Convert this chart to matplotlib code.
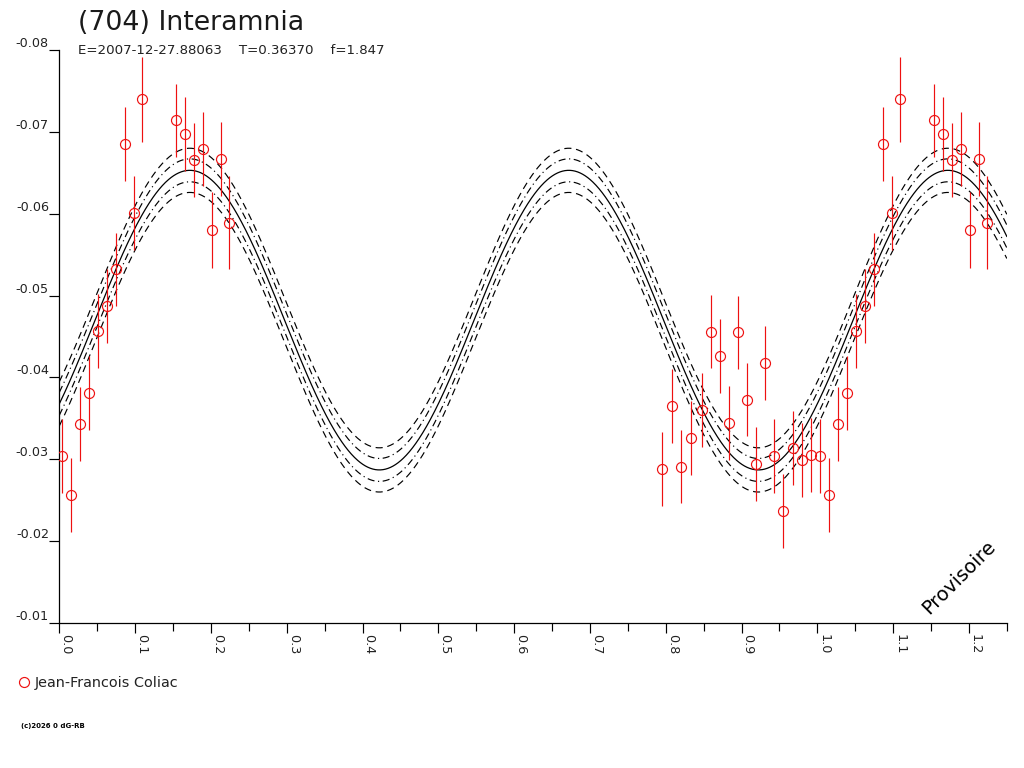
import numpy as np
import matplotlib
matplotlib.use("Agg")
import matplotlib.pyplot as plt
from matplotlib.lines import Line2D
from matplotlib.ticker import FixedLocator, FixedFormatter

# ---------------- data ----------------
title = "(704) Interamnia"
subtitle = "E=2007-12-27.88063    T=0.36370    f=1.847"
observer = "Jean-Francois Coliac"
copyright_text = "(c)2026 0 dG-RB"
stamp = "Provisoire"

# observations (phase, relative magnitude, error)
phase_obs = [0.003, 0.0155, 0.0273, 0.039, 0.051, 0.063, 0.0748, 0.0867, 0.0986,
             0.1087, 0.154, 0.166, 0.1777, 0.190, 0.2018, 0.2137, 0.2243,
             0.795, 0.808, 0.8206, 0.8338, 0.8475, 0.860, 0.872, 0.884, 0.8958,
             0.9077, 0.9195, 0.9314, 0.9433, 0.9552, 0.9675, 0.9794, 0.9913]
mag_obs = [-0.0304, -0.0256, -0.0343, -0.0381, -0.0457, -0.0487, -0.0532, -0.0685, -0.0601,
           -0.0740, -0.0714, -0.0697, -0.0666, -0.0679, -0.0580, -0.0667, -0.0589,
           -0.0288, -0.0365, -0.0291, -0.0326, -0.0360, -0.0456, -0.0426, -0.0344, -0.0455,
           -0.0373, -0.0294, -0.0418, -0.0304, -0.0237, -0.0314, -0.0299, -0.0305]
err_obs = [0.0045, 0.0045, 0.0045, 0.0045, 0.0045, 0.0045, 0.0045, 0.0045, 0.0045,
           0.0052, 0.0045, 0.0045, 0.0045, 0.0045, 0.0046, 0.0045, 0.0057,
           0.0045, 0.0045, 0.0045, 0.0045, 0.0045, 0.0045, 0.0045, 0.0045, 0.0045,
           0.0045, 0.0045, 0.0045, 0.0045, 0.0045, 0.0045, 0.0045, 0.0045]

# fitted Fourier model: mean, amplitude and phase of maximum brightness (2nd harmonic)
fit_mean = -0.0470
fit_amp = 0.0183
fit_phase_max = 0.1722
envelope_offsets = [-0.0027, -0.0014, 0.0014, 0.0027]

xtick_values = [0.0, 0.1, 0.2, 0.3, 0.4, 0.5, 0.6, 0.7, 0.8, 0.9, 1.0, 1.1, 1.2]
xtick_labels = ["0.0", "0.1", "0.2", "0.3", "0.4", "0.5", "0.6", "0.7", "0.8", "0.9", "1.0", "1.1", "1.2"]
xminor_values = [0.05, 0.15, 0.25, 0.35, 0.45, 0.55, 0.65, 0.75, 0.85, 0.95, 1.05, 1.15, 1.25]
ytick_values = [-0.08, -0.07, -0.06, -0.05, -0.04, -0.03, -0.02, -0.01]
ytick_labels = ["-0.08", "-0.07", "-0.06", "-0.05", "-0.04", "-0.03", "-0.02", "-0.01"]

# ---------------- figure ----------------
plt.rcParams['font.family'] = ['DejaVu Sans']
W, H = 1024, 768
fig = plt.figure(figsize=(W / 100, H / 100), dpi=100)
ax = fig.add_axes([59.3 / W, 1 - 623 / H, (1006.8 - 59.3) / W, (623 - 50) / H])

# model curves
ph = np.linspace(0.0, 1.25, 1500)
model = fit_mean - fit_amp * np.cos(4 * np.pi * (ph - fit_phase_max))
ax.plot(ph, model, color='black', lw=0.9, zorder=2)
styles = {0.0027: (0, (6, 4)), 0.0014: (0, (6, 3, 1, 3))}
for off in envelope_offsets:
    ax.plot(ph, model + off, color='black', lw=0.85,
            linestyle=styles[abs(off)], zorder=2)

# observations, repeated one cycle later
p = np.array(phase_obs)
m = np.array(mag_obs)
e = np.array(err_obs)
for shift in (0.0, 1.0):
    ax.errorbar(p + shift, m, yerr=e, fmt='none', ecolor='#ee1111',
                elinewidth=0.85, capsize=0, zorder=3, clip_on=True)
    ax.plot(p + shift, m, linestyle='none', marker='o', ms=7.2,
            mfc='none', mec='#ee1111', mew=0.85, zorder=4)

ax.set_xlim(0.0, 1.25)
ax.set_ylim(-0.01, -0.08)

for s in ('top', 'right'):
    ax.spines[s].set_visible(False)
for s in ('left', 'bottom'):
    ax.spines[s].set_linewidth(0.9)

ax.xaxis.set_major_locator(FixedLocator(xtick_values))
ax.xaxis.set_major_formatter(FixedFormatter(xtick_labels))
ax.xaxis.set_minor_locator(FixedLocator(xminor_values))
ax.yaxis.set_major_locator(FixedLocator(ytick_values))
ax.yaxis.set_major_formatter(FixedFormatter(ytick_labels))

ax.tick_params(axis='x', which='major', direction='out', length=7.2, width=0.85,
               pad=0.5, labelsize=9.2, labelrotation=-90, labelcolor='#222222')
ax.tick_params(axis='x', which='minor', direction='out', length=5.8, width=0.85)
ax.tick_params(axis='y', which='major', direction='out', length=7.2, width=0.85,
               pad=0.3, labelsize=9.2, labelcolor='#222222')
for lab in ax.get_xticklabels():
    lab.set_horizontalalignment('left')
    lab.set_verticalalignment('top')
for lab in ax.get_yticklabels():
    lab.set_verticalalignment('bottom')

# texts
fig.text(78 / W, 1 - 29.5 / H, title, fontsize=19.3, va='baseline', ha='left', color='#1a1a1a')
fig.text(78 / W, 1 - 54 / H, subtitle, fontsize=9.6, va='baseline', ha='left', color='#222222')
fig.text(959 / W, 1 - 577 / H, stamp, fontsize=14, rotation=45, ha='center', va='center',
         color='black')
fig.text(21 / W, 1 - 728 / H, copyright_text, fontsize=5, va='baseline', ha='left',
         color='black', fontweight='bold')

handle = Line2D([], [], linestyle='none', marker='o', ms=7.2, mfc='none',
                mec='#ee1111', mew=0.85)
ax.legend([handle], [observer], loc='center left',
          bbox_to_anchor=(16.8 / W, 1 - 683 / H), bbox_transform=fig.transFigure,
          frameon=False, handlelength=1.0, handletextpad=0.25, borderpad=0,
          borderaxespad=0, prop={'size': 10.4}, labelcolor='#222222')

fig.savefig("out.png", dpi=100)
